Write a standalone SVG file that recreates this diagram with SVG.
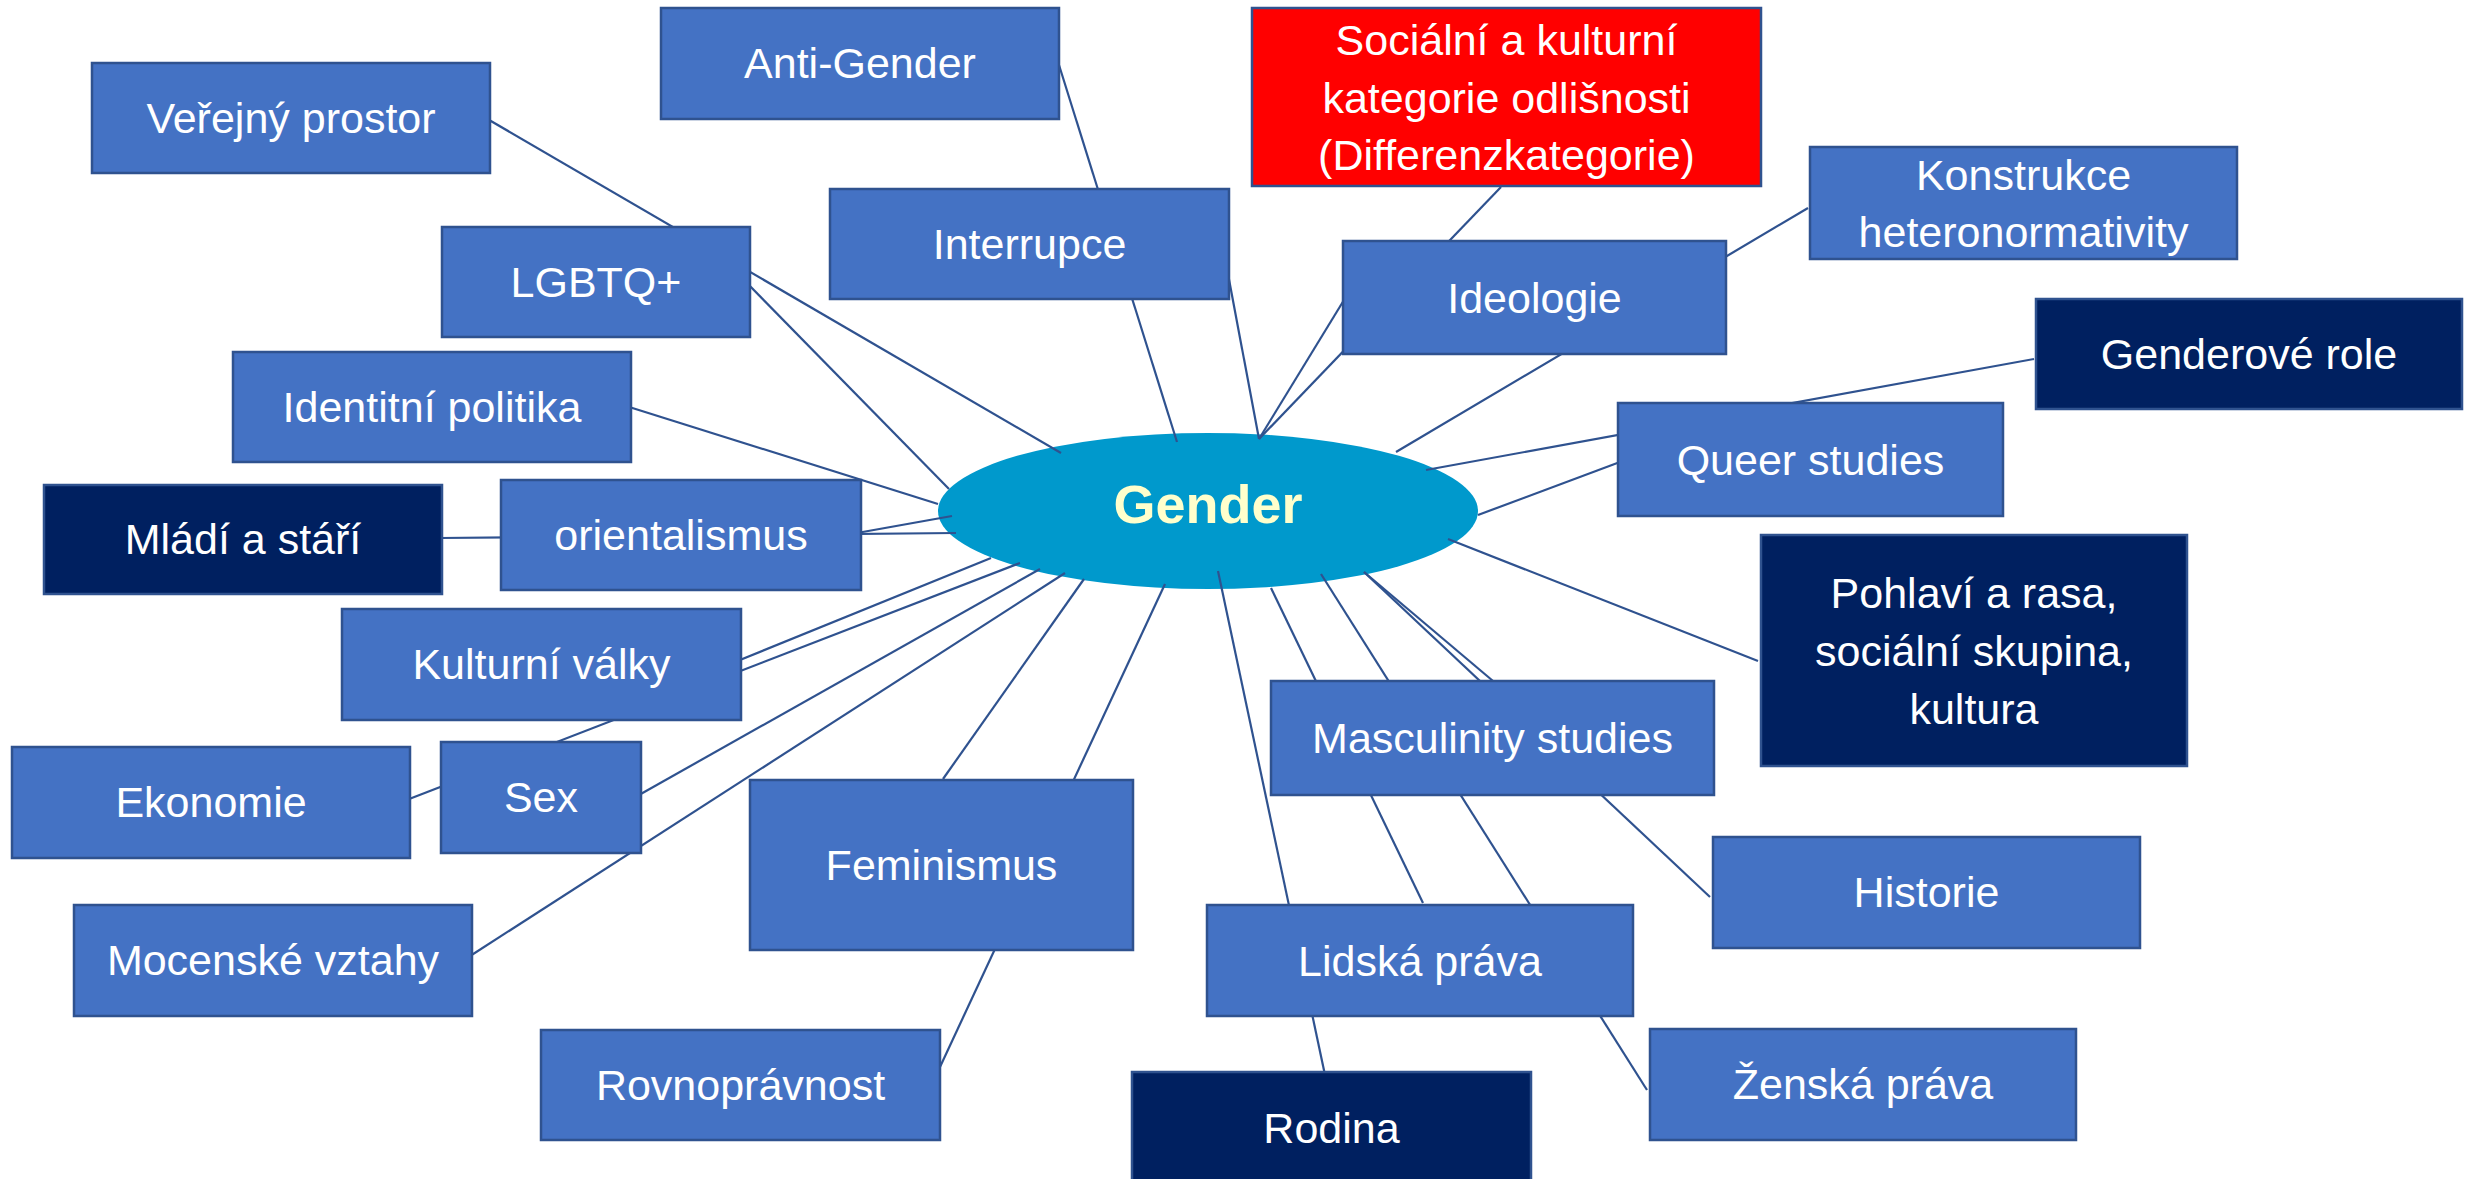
<svg xmlns="http://www.w3.org/2000/svg" width="2475" height="1179" viewBox="0 0 2475 1179">
<style>
.b{fill:#4472C4;stroke:#2F528F;stroke-width:2.5}
.d{fill:#002060;stroke:#2F528F;stroke-width:2.5}
.r{fill:#FF0000;stroke:#2F528F;stroke-width:2.5}
.t{font-family:"Liberation Sans",Arial,sans-serif;font-size:43px;fill:#FFFFFF;text-anchor:middle}
.c line{stroke:#2F528F;stroke-width:2.2;fill:none}
</style>
<rect width="2475" height="1179" fill="#FFFFFF"/>
<g id="gender">
<ellipse cx="1208" cy="511" rx="270" ry="78" fill="#0099CC"/>
<text x="1208" y="523" font-family="Liberation Sans,Arial,sans-serif" font-weight="bold" font-size="54" fill="#FFFFCC" text-anchor="middle">Gender</text>
</g>
<g id="connectors" class="c">
<line x1="1061" y1="453" x2="484" y2="117"/>
<line x1="949" y1="489" x2="745" y2="281"/>
<line x1="938" y1="504" x2="626" y2="406"/>
<line x1="952" y1="516" x2="857" y2="533"/>
<line x1="956" y1="533" x2="440" y2="538"/>
<line x1="991" y1="558" x2="735" y2="662"/>
<line x1="1020" y1="563" x2="404" y2="801"/>
<line x1="1040" y1="569" x2="639" y2="795"/>
<line x1="1065" y1="573" x2="467" y2="958"/>
<line x1="1084" y1="579" x2="943" y2="779"/>
<line x1="1165" y1="584" x2="933" y2="1082"/>
<line x1="1218" y1="571" x2="1325" y2="1075"/>
<line x1="1271" y1="588" x2="1423" y2="903"/>
<line x1="1321" y1="574" x2="1647" y2="1090"/>
<line x1="1364" y1="572" x2="1493" y2="681"/>
<line x1="1364" y1="572" x2="1710" y2="897"/>
<line x1="1448" y1="539" x2="1758" y2="661"/>
<line x1="1478" y1="515" x2="1620" y2="462"/>
<line x1="1426" y1="470" x2="2034" y2="359"/>
<line x1="1396" y1="452" x2="1808" y2="208"/>
<line x1="1259" y1="439" x2="1501" y2="187"/>
<line x1="1259" y1="439" x2="1344" y2="300"/>
<line x1="1259" y1="439" x2="1222" y2="242"/>
<line x1="1177" y1="442" x2="1059" y2="65"/>
</g>
<g id="anti-gender"><rect class="b" x="661" y="8" width="398" height="111"/><text class="t" x="860" y="78">Anti-Gender</text></g>
<g id="verejny-prostor"><rect class="b" x="92" y="63" width="398" height="110"/><text class="t" x="291" y="133">Veřejný prostor</text></g>
<g id="lgbtq"><rect class="b" x="442" y="227" width="308" height="110"/><text class="t" x="596" y="297">LGBTQ+</text></g>
<g id="identitni-politika"><rect class="b" x="233" y="352" width="398" height="110"/><text class="t" x="432" y="422">Identitní politika</text></g>
<g id="orientalismus"><rect class="b" x="501" y="480" width="360" height="110"/><text class="t" x="681" y="550">orientalismus</text></g>
<g id="mladi-a-stari"><rect class="d" x="44" y="485" width="398" height="109"/><text class="t" x="243" y="554">Mládí a stáří</text></g>
<g id="interrupce"><rect class="b" x="830" y="189" width="399" height="110"/><text class="t" x="1029.5" y="259">Interrupce</text></g>
<g id="socialni-kategorie"><rect class="r" x="1252" y="8" width="509" height="178"/><text class="t" x="1506.5" y="55">Sociální a kulturní</text><text class="t" x="1506.5" y="113">kategorie odlišnosti</text><text class="t" x="1506.5" y="170">(Differenzkategorie)</text></g>
<g id="ideologie"><rect class="b" x="1343" y="241" width="383" height="113"/><text class="t" x="1534.5" y="313">Ideologie</text></g>
<g id="konstrukce"><rect class="b" x="1810" y="147" width="427" height="112"/><text class="t" x="2023.5" y="190">Konstrukce</text><text class="t" x="2023.5" y="247">heteronormativity</text></g>
<g id="genderove-role"><rect class="d" x="2036" y="299" width="426" height="110"/><text class="t" x="2249" y="369">Genderové role</text></g>
<g id="queer-studies"><rect class="b" x="1618" y="403" width="385" height="113"/><text class="t" x="1810.5" y="475">Queer studies</text></g>
<g id="pohlavi-a-rasa"><rect class="d" x="1761" y="535" width="426" height="231"/><text class="t" x="1974" y="608">Pohlaví a rasa,</text><text class="t" x="1974" y="666">sociální skupina,</text><text class="t" x="1974" y="724">kultura</text></g>
<g id="kulturni-valky"><rect class="b" x="342" y="609" width="399" height="111"/><text class="t" x="541.5" y="679">Kulturní války</text></g>
<g id="ekonomie"><rect class="b" x="12" y="747" width="398" height="111"/><text class="t" x="211" y="817">Ekonomie</text></g>
<g id="sex"><rect class="b" x="441" y="742" width="200" height="111"/><text class="t" x="541" y="812">Sex</text></g>
<g id="mocenske-vztahy"><rect class="b" x="74" y="905" width="398" height="111"/><text class="t" x="273" y="975">Mocenské vztahy</text></g>
<g id="rovnopravnost"><rect class="b" x="541" y="1030" width="399" height="110"/><text class="t" x="740.5" y="1100">Rovnoprávnost</text></g>
<g id="feminismus"><rect class="b" x="750" y="780" width="383" height="170"/><text class="t" x="941.5" y="880">Feminismus</text></g>
<g id="masculinity-studies"><rect class="b" x="1271" y="681" width="443" height="114"/><text class="t" x="1492.5" y="753">Masculinity studies</text></g>
<g id="lidska-prava"><rect class="b" x="1207" y="905" width="426" height="111"/><text class="t" x="1420" y="976">Lidská práva</text></g>
<g id="rodina"><rect class="d" x="1132" y="1072" width="399" height="112"/><text class="t" x="1331.5" y="1143">Rodina</text></g>
<g id="historie"><rect class="b" x="1713" y="837" width="427" height="111"/><text class="t" x="1926.5" y="907">Historie</text></g>
<g id="zenska-prava"><rect class="b" x="1650" y="1029" width="426" height="111"/><text class="t" x="1863" y="1099">Ženská práva</text></g>
</svg>
